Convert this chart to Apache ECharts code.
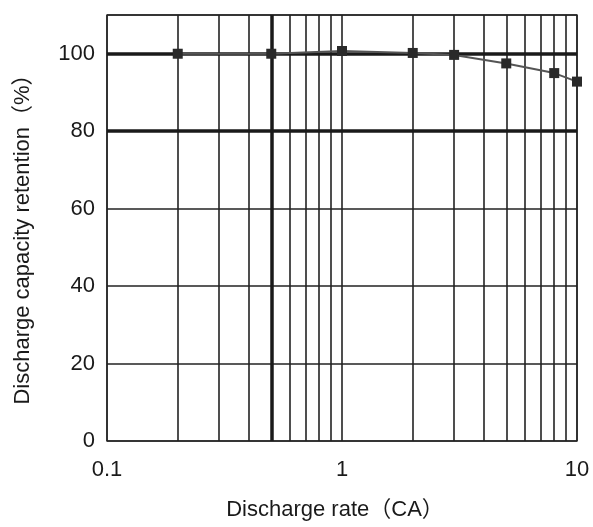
<!DOCTYPE html>
<html>
<head>
<meta charset="utf-8">
<script src="https://cdn.jsdelivr.net/npm/echarts@6/dist/echarts.min.js"></script>
<style>
html,body{margin:0;padding:0;background:#fff;}
#chart{width:593px;height:527px;}
</style>
</head>
<body>
<div id="chart"></div>
<script>
// Data
var rates = [0.2, 0.5, 1, 2, 3, 5, 8, 10];
var retention = [100, 100, 100.7, 100.2, 99.7, 97.5, 95, 92.8];
var minorGridX = [0.2, 0.3, 0.4, 0.6, 0.7, 0.8, 0.9, 2, 3, 4, 5, 6, 7, 8, 9];
var boldGridX = [0.5];
var boldGridY = [80, 100];
var xTitle = 'Discharge rate（CA）';
var yTitle = 'Discharge capacity retention（%）';

var FONT = '"Liberation Sans", Arial, "Noto Sans CJK JP", sans-serif';
var chart = echarts.init(document.getElementById('chart'));

var markData = [];
minorGridX.forEach(function (v) {
  markData.push({ xAxis: v, lineStyle: { width: 1.6, color: '#222', type: 'solid' } });
});
boldGridX.forEach(function (v) {
  markData.push({ xAxis: v, lineStyle: { width: 3.5, color: '#1a1a1a', type: 'solid' } });
});
boldGridY.forEach(function (v) {
  markData.push({ yAxis: v, lineStyle: { width: 3.5, color: '#1a1a1a', type: 'solid' } });
});

chart.setOption({
  animation: false,
  backgroundColor: '#fff',
  grid: {
    left: 107, right: 16, top: 15, bottom: 86,
    show: true, borderColor: '#444', borderWidth: 1.5, backgroundColor: 'transparent'
  },
  xAxis: {
    type: 'log', logBase: 10, min: 0.1, max: 10,
    name: xTitle, nameLocation: 'middle', nameGap: 58,
    nameTextStyle: { fontSize: 22, color: '#1a1a1a', fontFamily: FONT, padding: [0, 14, 0, 0] },
    axisLine: { show: false },
    axisTick: { show: false },
    axisLabel: { fontSize: 22, color: '#1a1a1a', fontFamily: FONT, margin: 18,
      formatter: function (v) { return String(v); } },
    splitLine: { show: true, lineStyle: { color: '#222', width: 1.6 } }
  },
  yAxis: {
    type: 'value', min: 0, max: 110, interval: 20,
    name: yTitle, nameLocation: 'middle', nameGap: 73, nameRotate: 90,
    nameTextStyle: { fontSize: 22, color: '#1a1a1a', fontFamily: FONT, padding: [0, 12, 0, 0] },
    axisLine: { show: false },
    axisTick: { show: false },
    axisLabel: { fontSize: 22, color: '#1a1a1a', fontFamily: FONT, margin: 12,
      formatter: function (v) { return v > 100 ? '' : String(v); } },
    splitLine: { show: true, lineStyle: { color: '#222', width: 1.6 } }
  },
  series: [{
    type: 'line',
    data: rates.map(function (x, i) { return [x, retention[i]]; }),
    symbol: 'rect', symbolSize: 10,
    clip: false,
    lineStyle: { color: '#555', width: 2 },
    itemStyle: { color: '#2a2a2a' },
    z: 5,
    markLine: {
      silent: true, symbol: 'none', label: { show: false },
      animation: false,
      data: markData
    }
  }]
});
</script>
</body>
</html>
